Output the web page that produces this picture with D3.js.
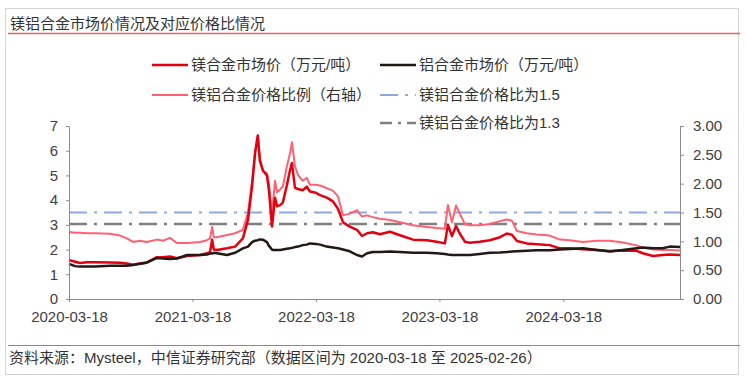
<!DOCTYPE html>
<html><head><meta charset="utf-8">
<script src="https://cdn.jsdelivr.net/npm/d3@7"></script>
<style>
body{margin:0;background:#fff;}
svg{display:block;font-family:"Liberation Sans","Noto Sans CJK SC",sans-serif;}
</style>
</head><body>
<svg id="c" width="746" height="381"></svg>
<script>
// ---------------- data ----------------
const dates = ["2020-03-18","2020-04-05","2020-04-19","2020-05-10","2020-06-03","2020-07-17","2020-08-16","2020-09-05","2020-09-23","2020-10-14",
"2020-11-03","2020-12-03","2020-12-21","2021-01-10","2021-01-31","2021-03-02","2021-04-09","2021-04-30","2021-05-09","2021-05-15",
"2021-05-20","2021-05-29","2021-06-28","2021-07-22","2021-08-14","2021-08-29","2021-09-10","2021-09-19","2021-09-27","2021-10-03",
"2021-10-12","2021-10-24","2021-10-30","2021-11-08","2021-11-11","2021-11-17","2021-11-23","2021-12-02","2021-12-10","2021-12-22",
"2021-12-31","2022-01-06","2022-01-15","2022-01-24","2022-02-07","2022-02-19","2022-02-28","2022-03-18","2022-03-30","2022-04-19",
"2022-05-07","2022-05-22","2022-06-06","2022-06-26","2022-07-17","2022-08-01","2022-08-16","2022-09-02","2022-09-23","2022-10-23",
"2022-11-21","2022-12-30","2023-02-09","2023-03-10","2023-04-03","2023-04-12","2023-04-24","2023-05-06","2023-05-17","2023-06-01",
"2023-06-16","2023-07-15","2023-08-14","2023-09-13","2023-10-03","2023-10-18","2023-11-02","2023-12-01","2023-12-31","2024-02-07",
"2024-03-08","2024-04-06","2024-05-15","2024-06-25","2024-08-03","2024-09-10","2024-10-21","2024-11-08","2024-12-08","2025-01-06",
"2025-01-27","2025-02-26"];
const mgPrice = [1.58,1.51,1.46,1.49,1.49,1.48,1.47,1.44,1.39,1.44,
1.48,1.69,1.69,1.72,1.65,1.74,1.78,1.85,1.90,2.40,
2.00,1.98,2.05,2.12,2.45,3.20,4.55,5.90,6.62,5.60,
5.20,5.00,4.40,2.93,3.30,4.10,3.75,3.80,3.90,4.60,
5.20,5.50,4.50,4.45,4.40,4.55,4.35,4.30,4.20,4.10,
3.95,3.65,3.10,2.93,2.80,2.55,2.66,2.70,2.62,2.72,
2.58,2.40,2.38,2.32,2.25,3.00,2.55,2.95,2.65,2.32,
2.28,2.32,2.38,2.50,2.65,2.60,2.35,2.25,2.22,2.18,
2.05,2.05,2.01,1.98,1.94,1.96,1.95,1.85,1.74,1.78,
1.80,1.78];
const alPrice = [1.42,1.33,1.31,1.31,1.32,1.35,1.35,1.35,1.38,1.43,
1.47,1.66,1.64,1.62,1.64,1.78,1.78,1.80,1.84,1.84,
1.87,1.85,1.78,1.87,2.05,2.12,2.30,2.36,2.38,2.41,
2.40,2.30,2.15,2.00,1.98,1.98,1.98,1.98,2.00,2.03,
2.05,2.07,2.10,2.12,2.18,2.20,2.25,2.23,2.20,2.12,
2.08,2.05,2.00,1.93,1.78,1.72,1.85,1.90,1.90,1.92,
1.90,1.87,1.87,1.85,1.82,1.80,1.78,1.78,1.78,1.78,
1.78,1.82,1.87,1.88,1.90,1.92,1.93,1.95,1.97,1.97,
2.00,2.02,2.05,1.98,1.92,1.98,2.05,2.08,2.05,2.05,
2.12,2.10];
const ratio = [1.16,1.15,1.15,1.14,1.14,1.13,1.10,1.05,0.99,1.01,
0.99,1.03,1.01,1.06,0.97,0.97,0.99,1.02,1.05,1.25,
1.07,1.07,1.11,1.14,1.20,1.50,2.05,2.55,2.83,2.45,
2.22,2.18,2.00,1.45,1.66,2.05,1.85,1.90,1.95,2.30,
2.52,2.72,2.30,2.15,2.05,2.10,1.98,1.98,1.97,1.92,
1.88,1.78,1.45,1.48,1.54,1.43,1.45,1.42,1.39,1.37,
1.33,1.28,1.25,1.23,1.22,1.63,1.33,1.62,1.48,1.30,
1.28,1.28,1.30,1.35,1.38,1.36,1.18,1.14,1.12,1.10,
1.03,1.02,0.99,1.01,1.01,0.98,0.93,0.89,0.86,0.85,
0.85,0.84];
const refRatios = [1.5, 1.3];
const leftTicks = [0,1,2,3,4,5,6,7];
const rightTicks = [0,0.5,1,1.5,2,2.5,3];
const xTickDates = ["2020-03-18","2021-03-18","2022-03-18","2023-03-18","2024-03-18"];
const dateStart = "2020-03-18", dateEnd = "2025-02-26";
const titleText = "镁铝合金市场价情况及对应价格比情况";
const sourceText = "资料来源：Mysteel，中信证券研究部（数据区间为 2020-03-18 至 2025-02-26）";
const legendLabels = ["镁合金市场价（万元/吨）","铝合金市场价（万元/吨）","镁铝合金价格比例（右轴）","镁铝合金价格比为1.5","镁铝合金价格比为1.3"];

// ---------------- drawing ----------------
const parse = d3.timeParse("%Y-%m-%d");
const svg = d3.select("#c");
const C = {mg:"#e3000f", al:"#231815", ratio:"#ff6174", r15:"#8eaadc", r13:"#7f7f7f", axis:"#8c8c8c", text:"#404040", accent:"#e06666"};

svg.append("rect").attr("x",5.5).attr("y",8.5).attr("width",733).attr("height",366)
  .attr("fill","none").attr("stroke","#d4d4d4");

svg.append("text").attr("x",10).attr("y",29).attr("font-size",15).attr("fill","#333")
  .attr("font-family","'Noto Sans CJK SC',sans-serif").text(titleText);
svg.append("line").attr("x1",8).attr("x2",740).attr("y1",33.5).attr("y2",33.5)
  .attr("stroke",C.accent).attr("stroke-width",1.5);

const x = d3.scaleTime().domain([parse(dateStart), parse(dateEnd)]).range([69,680]);
const yL = d3.scaleLinear().domain([0,7]).range([299,126]);
const yR = d3.scaleLinear().domain([0,3]).range([299,126]);

const pts = dates.map((d,i)=>({d:parse(d), mg:mgPrice[i], al:alPrice[i], r:ratio[i]}));

// reference lines (secondary axis)
const refStyle = [{c:C.r15,w:2.2},{c:C.r13,w:2.5}];
refRatios.forEach((v,i)=>{
  svg.append("line").attr("x1",x.range()[0]).attr("x2",x.range()[1])
    .attr("y1",yR(v)).attr("y2",yR(v))
    .attr("stroke",refStyle[i].c).attr("stroke-width",refStyle[i].w)
    .attr("stroke-dasharray","18,7,3,7");
});

const lineR = d3.line().x(p=>x(p.d)).y(p=>yR(p.r));
const lineMg = d3.line().x(p=>x(p.d)).y(p=>yL(p.mg));
const lineAl = d3.line().x(p=>x(p.d)).y(p=>yL(p.al));
svg.append("path").datum(pts).attr("d",lineR).attr("fill","none").attr("stroke",C.ratio).attr("stroke-width",2).attr("stroke-linejoin","round");
svg.append("path").datum(pts).attr("d",lineMg).attr("fill","none").attr("stroke",C.mg).attr("stroke-width",2.5).attr("stroke-linejoin","round");
svg.append("path").datum(pts).attr("d",lineAl).attr("fill","none").attr("stroke",C.al).attr("stroke-width",2.5).attr("stroke-linejoin","round");

// axes
function styleAxis(g){
  g.select(".domain").attr("stroke",C.axis).attr("stroke-width",1);
  g.selectAll(".tick line").attr("stroke",C.axis);
  g.selectAll("text").attr("fill",C.text).attr("font-size",15).attr("font-family","'Liberation Sans',Arial,sans-serif");
}
svg.append("g").attr("transform","translate(69,0)")
  .call(d3.axisLeft(yL).tickValues(leftTicks).tickFormat(d3.format("d")).tickSize(3).tickSizeOuter(0).tickPadding(8))
  .call(styleAxis);
svg.append("g").attr("transform","translate(680,0)")
  .call(d3.axisRight(yR).tickValues(rightTicks).tickFormat(d3.format(".2f")).tickSize(4).tickSizeOuter(0).tickPadding(9))
  .call(styleAxis);
svg.append("g").attr("transform","translate(0,299)")
  .call(d3.axisBottom(x).tickValues(xTickDates.map(parse)).tickFormat(d3.timeFormat("%Y-%m-%d")).tickSize(3).tickSizeOuter(0).tickPadding(9))
  .call(styleAxis);

// legend
const legend = [
  {x:152,y:65,c:C.mg,w:2.5,dash:null},
  {x:380,y:65,c:C.al,w:2.5,dash:null},
  {x:152,y:95,c:C.ratio,w:2,dash:null},
  {x:380,y:95,c:C.r15,w:2.2,dash:"18,7,3,7"},
  {x:380,y:123,c:C.r13,w:2.5,dash:"12,6,3,6"}
];
legend.forEach((l,i)=>{
  svg.append("line").attr("x1",l.x).attr("x2",l.x+36).attr("y1",l.y).attr("y2",l.y)
    .attr("stroke",l.c).attr("stroke-width",l.w).attr("stroke-dasharray",l.dash);
  svg.append("text").attr("x",l.x+39).attr("y",l.y).attr("dy","0.36em")
    .attr("font-size",15).attr("fill","#333").text(legendLabels[i]);
});

// footer
svg.append("line").attr("x1",8).attr("x2",740).attr("y1",345.5).attr("y2",345.5)
  .attr("stroke",C.accent).attr("stroke-width",1.2);
svg.append("text").attr("x",9).attr("y",363).attr("font-size",15).attr("fill","#333").text(sourceText);
</script>
</body></html>
